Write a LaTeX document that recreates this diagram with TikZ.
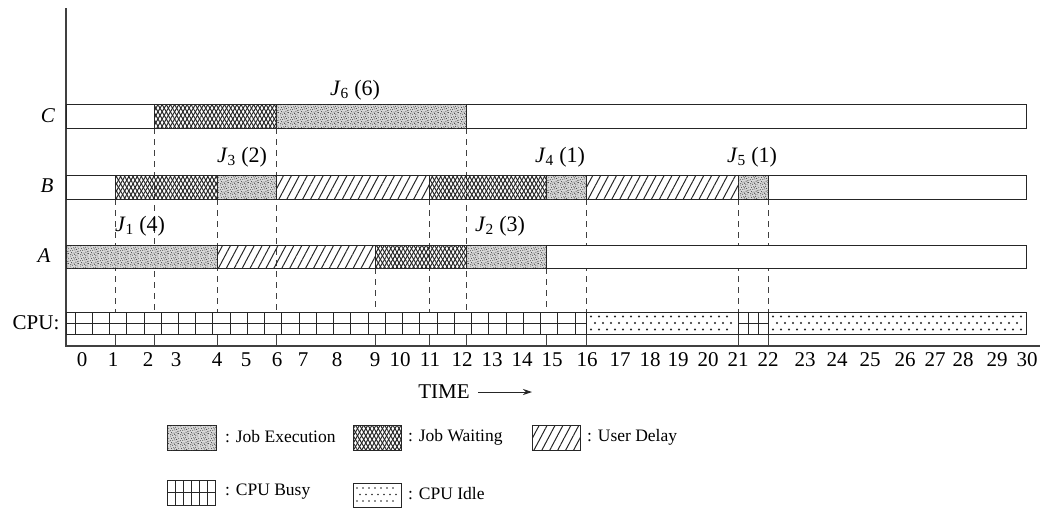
\documentclass[tikz,border=0pt]{standalone}
\usepackage{fontspec}
\setmainfont{Liberation Serif}
\usetikzlibrary{patterns,patterns.meta,arrows.meta}
\pgfdeclarepatternformonly{stipple}{\pgfqpoint{0pt}{0pt}}{\pgfqpoint{10pt}{10pt}}{\pgfqpoint{10pt}{10pt}}{%
  \foreach \px/\py/\pr in {0.7/1.3/0.6,2.9/0.4/0.5,5.1/1.8/0.65,7.6/0.9/0.5,9.2/2.6/0.6,1.8/3.7/0.55,4.2/3.2/0.5,6.5/4.1/0.65,8.4/4.9/0.5,0.4/5.6/0.6,3.0/5.9/0.55,5.3/6.4/0.5,7.2/7.0/0.65,9.5/7.8/0.5,1.6/8.1/0.6,3.9/8.8/0.5,6.1/9.3/0.6,8.6/9.6/0.5,2.3/2.1/0.45,7.9/2.9/0.45,4.7/7.7/0.45,0.9/9.8/0.45,6.0/0.2/0.45,9.7/5.2/0.45}{%
    \pgfpathcircle{\pgfqpoint{\px pt}{\py pt}}{\pr pt}}%
  \pgfusepath{fill}}
\tikzset{
  barline/.style={draw=black!85,line width=0.9pt},
  exec/.style={barline,fill=black!15,postaction={pattern=stipple,pattern color=black!75}},
  wait/.style={barline,preaction={pattern={Lines[angle=60,distance=3.6pt,line width=1pt]},pattern color=black!85},
               pattern={Lines[angle=-60,distance=3.6pt,line width=1pt]},pattern color=black!85},
  delay/.style={barline,pattern={Lines[angle=62,distance=7pt,line width=1pt]},pattern color=black!85},
  blank/.style={barline,fill=white},
  gridl/.style={draw=black!85,line width=0.9pt},
  dsh/.style={draw=black!75,line width=0.9pt,dash pattern=on 6pt off 5pt},
  tick/.style={draw=black!75,line width=0.9pt},
  axis/.style={draw=black!75,line width=1.2pt},
  lab/.style={font=\fontsize{21}{24}\selectfont,inner sep=0pt},
  jlab/.style={font=\fontsize{22}{24}\selectfont,inner sep=0pt},
  rowlab/.style={font=\fontsize{21}{24}\selectfont\itshape,inner sep=0pt},
  leg/.style={font=\fontsize{17.5}{20}\selectfont,inner sep=0pt,anchor=west},
  idot/.style={fill=black!85},
}
\newcommand\segm[5]{\path[#5] (#3,#1) rectangle (#4,#2);}
\begin{document}
\begin{tikzpicture}[x=1pt,y=-1pt]
\useasboundingbox (0,0) rectangle (1044,515);
% axes
\draw[axis] (66,8) coordinate (ytop) -- (66,346) coordinate (orig) -- (1040,346) coordinate (xend);
% dashed event lines
\foreach \xx/\yy in {115/199,154/128,217/199,276/128,375/268,429/199,466/128,546/268,586/199,738/199,768/199}{
  \draw[dsh] (\xx,\yy) -- (\xx,312);
  \draw[tick] (\xx,334) -- (\xx,346);
}
% row C
\segm{104}{128}{66}{154}{blank}
\segm{104}{128}{154}{276}{wait}
\segm{104}{128}{276}{466}{exec}
\segm{104}{128}{466}{1026}{blank}
% row B
\segm{175}{199}{66}{115}{blank}
\segm{175}{199}{115}{217}{wait}
\segm{175}{199}{217}{276}{exec}
\segm{175}{199}{276}{429}{delay}
\segm{175}{199}{429}{546}{wait}
\segm{175}{199}{546}{586}{exec}
\segm{175}{199}{586}{738}{delay}
\segm{175}{199}{738}{768}{exec}
\segm{175}{199}{768}{1026}{blank}
% row A
\segm{245}{268}{66}{217}{exec}
\segm{245}{268}{217}{375}{delay}
\segm{245}{268}{375}{466}{wait}
\segm{245}{268}{466}{546}{exec}
\segm{245}{268}{546}{1026}{blank}
% CPU row
\path[barline,fill=white] (66,312) rectangle (1026,334);
\foreach \k in {0,...,29}{\draw[gridl] ({75+17.24*\k},312) -- ({75+17.24*\k},334);}
\draw[gridl] (66,323) -- (586,323);
\draw[gridl] (586,312) -- (586,334);
\draw[gridl] (738,312) -- (738,334);
\draw[gridl] (748,312) -- (748,334);
\draw[gridl] (758,312) -- (758,334);
\draw[gridl] (768,312) -- (768,334);
\draw[gridl] (738,323) -- (768,323);
\foreach \xx in {591,599,...,734}{\fill[idot] (\xx,316.5) circle (1.1pt); \fill[idot] (\xx,329.5) circle (1.1pt);}
\foreach \xx in {595,603,...,734}{\fill[idot] (\xx,323) circle (1.1pt);}
\foreach \xx in {773,781,...,1022}{\fill[idot] (\xx,316.5) circle (1.1pt); \fill[idot] (\xx,329.5) circle (1.1pt);}
\foreach \xx in {777,785,...,1022}{\fill[idot] (\xx,323) circle (1.1pt);}
% row labels
\node[rowlab] (lc) at (48,116) {C};
\node[rowlab] (lb) at (47,186) {B};
\node[rowlab] (la) at (44,256) {A};
\node[lab] (lcpu) at (36,323) {CPU:};
% job labels
\node[jlab] (j6) at (355,90) {\textit{J}\textsubscript{6} (6)};
\node[jlab] (j3) at (242,157) {\textit{J}\textsubscript{3} (2)};
\node[jlab] (j4) at (560,157) {\textit{J}\textsubscript{4} (1)};
\node[jlab] (j5) at (752,157) {\textit{J}\textsubscript{5} (1)};
\node[jlab] (j1) at (140,226) {\textit{J}\textsubscript{1} (4)};
\node[jlab] (j2) at (500,226) {\textit{J}\textsubscript{2} (3)};
% tick labels
\foreach \n/\xx in {0/82,1/113,2/148,3/176,4/217,5/246,6/277,7/303,8/337,9/375,10/400,11/430,12/462,13/492,14/522,15/552,16/587,17/620,18/650,19/678,20/708,21/738,22/768,23/805,24/837,25/870,26/905,27/935,28/963,29/997,30/1027}{
  \node[lab] (t\n) at (\xx,360) {\n};
}
\node[lab] (time) at (444,392) {TIME};
\coordinate (ta) at (478,392);
\coordinate (tb) at (532,392);
\draw[black!85,line width=0.9pt,-{Stealth[length=9pt,width=6pt]}] (ta) -- (tb);
% legend
\path[exec] (167,425) rectangle (216,450);
\node[leg] (le1) at (225,437) {: Job Execution};
\path[wait] (353,425) rectangle (401,450);
\node[leg] (le2) at (408,437) {: Job Waiting};
\path[delay] (532,425) rectangle (580,450);
\node[leg] (le3) at (587,437) {: User Delay};
\path[barline,fill=white] (167,480) rectangle (215,505);
\draw[gridl] (167,492.5) -- (215,492.5);
\foreach \xx in {175,183,...,208}{\draw[gridl] (\xx,480) -- (\xx,505);}
\node[leg] (le4) at (225,492) {: CPU Busy};
\path[barline,fill=white] (353,483) rectangle (401,507);
\foreach \xx in {357,363,...,398}{\fill[idot] (\xx,488) circle (0.9pt); \fill[idot] (\xx,501) circle (0.9pt);}
\foreach \xx in {360,366,...,398}{\fill[idot] (\xx,494.5) circle (0.9pt);}
\node[leg] (le5) at (408,494) {: CPU Idle};
\end{tikzpicture}
\end{document}
